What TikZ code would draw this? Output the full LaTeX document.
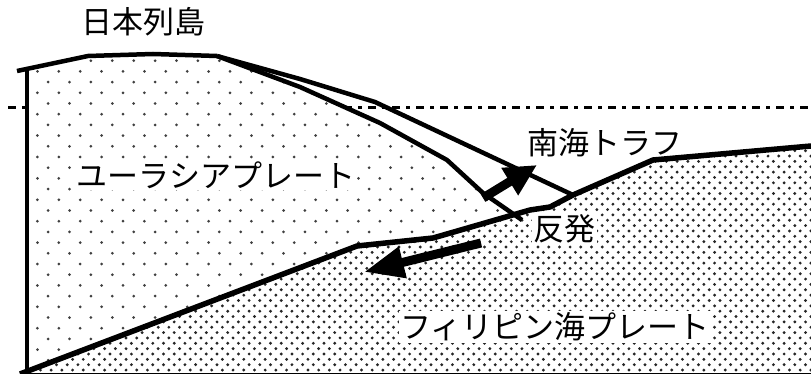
\documentclass[tikz,border=0pt]{standalone}
\usepackage{fontspec}
\newfontfamily\jpfont{Noto Sans CJK JP}
\usetikzlibrary{arrows.meta}

\begin{document}
\begin{tikzpicture}[
    x=1pt, y=-1pt,
    edge/.style={line width=4.5pt},
    slab/.style={line width=5.5pt},
    sealevel/.style={line width=3pt, dash pattern=on 8pt off 6pt on 4pt off 6pt},
    platetext/.style={font=\jpfont\fontsize{31}{36}\selectfont, inner sep=1.5pt},
    bigarrow/.style={line width=9pt, -{Triangle[length=32pt, width=30pt]}},
    sparsedot/.style={fill=black!75},
    densedot/.style={fill=black!85}
]
\useasboundingbox (0,0) rectangle (811,374);

% -------------------------------------------------
% SEA LEVEL
% -------------------------------------------------
\draw[sealevel] (8,108) -- (811,108);

% -------------------------------------------------
% EURASIAN PLATE (sparse dots)
% -------------------------------------------------
\begin{scope}
  \clip (27,374) -- (27,70) -- (88,56) -- (153,54) -- (217,56) -- (300,87)
        -- (380,123) -- (447,160) -- (483,193) -- (514,215) -- (433,238)
        -- (357,246) -- (20,374) -- cycle;
  \fill[white] (0,0) rectangle (811,374);
  \foreach \j in {0,...,30}
    \foreach \i in {0,...,26}
      \fill[sparsedot] ({\i*21.4+mod(\j,2)*10.7+16}, {\j*10.7+50}) circle (1.5);
\end{scope}

% -------------------------------------------------
% PHILIPPINE SEA PLATE (dense dots)
% -------------------------------------------------
\begin{scope}
  \clip (20,374) -- (357,246) -- (433,238) -- (530,210) -- (550,207)
        -- (573,195) -- (653,160) -- (811,146) -- (811,374) -- cycle;
  \foreach \j in {0,...,44}
    \foreach \i in {0,...,76}
      \fill[densedot] ({\i*10.7+mod(\j,2)*5.35+3}, {\j*5.35+140}) circle (1.6);
\end{scope}

% -------------------------------------------------
% LABELS
% -------------------------------------------------
\node[platetext] (islands) at (143,22) {日本列島};
\node[platetext, fill=white] (eurasia) at (216,175) {ユーラシアプレート};
\node[platetext] (trough) at (605,143) {南海トラフ};
\node[platetext, fill=white] (rebound) at (564,229) {反発};
\node[platetext, fill=white] (philippine) at (555,327) {フィリピン海プレート};

% -------------------------------------------------
% OUTLINES
% -------------------------------------------------
% land surface and left edge
\draw[edge] (17,71) -- (88,56) -- (153,54) -- (217,56);
\draw[edge] (27,71) -- (27,374);

% sea floor (outer) and plate boundary (inner)
\draw[edge] (217,56) -- (300,79) -- (375,102) -- (573,195);
\draw[edge] (217,56) -- (300,87) -- (380,123) -- (447,160) -- (483,193) -- (522,220);

% top of the subducting plate
\draw[slab] (20,374) -- (357,246) -- (433,238) -- (530,210) -- (550,207)
    -- (573,195) -- (653,160) -- (811,146);
\draw[line width=1pt] (20,373.5) -- (811,373.5);

% -------------------------------------------------
% ARROWS
% -------------------------------------------------
\coordinate (pushA) at (483,198);
\coordinate (pushB) at (537,165);
\draw[bigarrow] (pushA) -- (pushB);

\coordinate (moveA) at (481,243);
\coordinate (moveB) at (364,272);
\draw[bigarrow, -{Triangle[length=40pt, width=30pt]}] (moveA) -- (moveB);

\end{tikzpicture}
\end{document}
